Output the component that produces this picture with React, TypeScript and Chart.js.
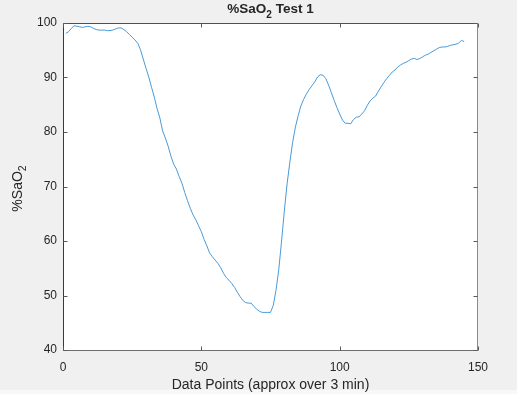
import React, { useEffect, useRef } from "react";
import { Chart, registerables } from "chart.js";

Chart.register(...registerables);

// %SaO2 readings, one per data point (approx over 3 min)
const sao2: number[] = [
  98.1, 98.4, 99.0, 99.5, 99.4, 99.3, 99.2, 99.3, 99.4, 99.3,
  99.0, 98.8, 98.7, 98.7, 98.7, 98.6, 98.6, 98.7, 98.9, 99.1,
  99.1, 98.8, 98.4, 97.9, 97.4, 96.9, 96.3, 95.1, 93.4, 91.7,
  90.1, 88.2, 86.4, 84.3, 82.6, 80.2, 78.9, 77.4, 75.6, 74.1,
  73.2, 71.8, 70.6, 68.9, 67.4, 66.0, 64.8, 63.9, 62.8, 61.7,
  60.3, 59.1, 57.8, 57.1, 56.5, 55.9, 55.1, 54.1, 53.3, 52.8,
  52.2, 51.5, 50.6, 49.8, 49.1, 48.7, 48.6, 48.6, 48.0, 47.5,
  47.1, 46.9, 46.9, 46.9, 46.9, 48.2, 51.0, 54.8, 60.0, 65.5,
  70.5, 74.5, 78.1, 80.9, 83.0, 84.8, 86.0, 87.0, 87.8, 88.5,
  89.2, 90.1, 90.5, 90.4, 89.8, 88.6, 87.2, 85.8, 84.5, 83.3,
  82.2, 81.6, 81.6, 81.5, 82.3, 82.7, 82.8, 83.3, 83.9, 84.9,
  85.7, 86.2, 86.6, 87.5, 88.3, 89.1, 89.8, 90.4, 91.0, 91.4,
  91.9, 92.3, 92.6, 92.8, 93.1, 93.4, 93.5, 93.3, 93.5, 93.8,
  94.1, 94.3, 94.6, 94.9, 95.2, 95.5, 95.6, 95.6, 95.7, 95.9,
  96.0, 96.1, 96.3, 96.8, 96.6,
];
// data point numbers (1-based sample index)
const sampleIndex: number[] = sao2.map((_, i) => i + 1);

const xTicks: number[] = [0, 50, 100, 150];
const yTicks: number[] = [40, 50, 60, 70, 80, 90, 100];

const titleMain = "%SaO";
const titleSub = "2";
const titleRest = " Test 1";
const yLabelMain = "%SaO";
const yLabelSub = "2";
const xLabel = "Data Points (approx over 3 min)";

const FONT = 'Arial, "Liberation Sans", Helvetica, sans-serif';
const TEXT = "#262626";

const matlabPlugin = {
  id: "matlabLook",
  beforeDraw(chart: any) {
    const { ctx, width, height, chartArea: a } = chart;
    ctx.save();
    ctx.fillStyle = "#f0f0f0";
    ctx.fillRect(0, 0, width, height);
    ctx.fillStyle = "#f8f8f8";
    ctx.fillRect(0, 390, width, height - 390);
    ctx.fillStyle = "#ffffff";
    ctx.fillRect(a.left, a.top, a.right - a.left, a.bottom - a.top);
    ctx.restore();
  },
  afterDraw(chart: any) {
    const { ctx, chartArea: a, scales } = chart;
    const xs = scales.x;
    const ys = scales.y;
    const L = Math.round(a.left) + 0.5;
    const R = Math.round(a.right) - 0.5;
    const T = Math.round(a.top) + 0.5;
    const B = Math.round(a.bottom) + 0.5;
    const tl = 4;
    ctx.save();
    ctx.lineWidth = 1;
    // left & bottom axes
    ctx.strokeStyle = "#3a3a3a";
    ctx.beginPath();
    ctx.moveTo(L, T);
    ctx.lineTo(L, B);
    ctx.stroke();
    ctx.strokeStyle = "#6e6e6e";
    ctx.beginPath();
    ctx.moveTo(L, B);
    ctx.lineTo(R + 0.5, B);
    ctx.stroke();
    // top & right box
    ctx.strokeStyle = "#505050";
    ctx.beginPath();
    ctx.moveTo(L, T);
    ctx.lineTo(R, T);
    ctx.stroke();
    ctx.strokeStyle = "#8a8a8a";
    ctx.beginPath();
    ctx.moveTo(R, T);
    ctx.lineTo(R, B);
    ctx.stroke();
    // ticks
    ctx.strokeStyle = "#5a5a5a";
    xTicks.forEach((v) => {
      const px = Math.round(xs.getPixelForValue(v)) + 0.5;
      ctx.beginPath();
      ctx.moveTo(px, B);
      ctx.lineTo(px, B - tl);
      ctx.moveTo(px, T);
      ctx.lineTo(px, T + tl);
      ctx.stroke();
    });
    yTicks.forEach((v) => {
      const py = Math.round(ys.getPixelForValue(v)) + 0.5;
      ctx.beginPath();
      ctx.moveTo(L, py);
      ctx.lineTo(L + tl, py);
      ctx.moveTo(R, py);
      ctx.lineTo(R - tl, py);
      ctx.stroke();
    });

    // title with subscript
    ctx.fillStyle = TEXT;
    ctx.textBaseline = "alphabetic";
    ctx.textAlign = "left";
    const mainF = `bold 13.5px ${FONT}`;
    const subF = `bold 10px ${FONT}`;
    ctx.font = mainF;
    const w1 = ctx.measureText(titleMain).width;
    const w3 = ctx.measureText(titleRest).width;
    ctx.font = subF;
    const w2 = ctx.measureText(titleSub).width;
    const cx = (a.left + a.right) / 2;
    const x0 = cx - (w1 + w2 + w3) / 2;
    const by = 13;
    ctx.font = mainF;
    ctx.fillText(titleMain, x0, by);
    ctx.font = subF;
    ctx.fillText(titleSub, x0 + w1, by + 5);
    ctx.font = mainF;
    ctx.fillText(titleRest, x0 + w1 + w2, by);

    // y label with subscript, rotated
    const yMainF = `14px ${FONT}`;
    const ySubF = `10.5px ${FONT}`;
    ctx.font = yMainF;
    const yw1 = ctx.measureText(yLabelMain).width;
    ctx.font = ySubF;
    const yw2 = ctx.measureText(yLabelSub).width;
    ctx.translate(22, (a.top + a.bottom) / 2 + 2);
    ctx.rotate(-Math.PI / 2);
    const sx = -(yw1 + yw2) / 2;
    ctx.font = yMainF;
    ctx.fillText(yLabelMain, sx, 0);
    ctx.font = ySubF;
    ctx.fillText(yLabelSub, sx + yw1, 4);
    ctx.restore();
  },
};

export default function App() {
  const ref = useRef<HTMLCanvasElement | null>(null);

  useEffect(() => {
    if (!ref.current) return;
    const chart = new Chart(ref.current, {
      type: "line",
      data: {
        datasets: [
          {
            data: sao2.map((y, i) => ({ x: sampleIndex[i], y })),
            borderColor: "#4a9ad8",
            borderWidth: 1,
            pointRadius: 0,
            tension: 0,
            fill: false,
          },
        ],
      },
      options: {
        responsive: false,
        animation: false,
        devicePixelRatio: 1,
        layout: { padding: { left: 0, right: 39, top: 23, bottom: 0 } },
        plugins: {
          legend: { display: false },
          title: { display: false },
          tooltip: { enabled: false },
        },
        scales: {
          x: {
            type: "linear",
            min: 0,
            max: 150,
            afterBuildTicks: (s: any) => {
              s.ticks = xTicks.map((v) => ({ value: v }));
            },
            afterFit: (s: any) => {
              s.height = 44;
            },
            grid: { display: false, drawTicks: false },
            border: { display: false },
            ticks: {
              color: TEXT,
              font: { family: FONT, size: 12 },
              padding: 10,
              maxRotation: 0,
              autoSkip: false,
            },
            title: {
              display: true,
              text: xLabel,
              color: TEXT,
              font: { family: FONT, size: 14 },
              padding: { top: 2, bottom: 0 },
            },
          },
          y: {
            type: "linear",
            min: 40,
            max: 100,
            afterBuildTicks: (s: any) => {
              s.ticks = yTicks.map((v) => ({ value: v }));
            },
            afterFit: (s: any) => {
              s.width = 63;
            },
            grid: { display: false, drawTicks: false },
            border: { display: false },
            ticks: {
              color: TEXT,
              font: { family: FONT, size: 12 },
              padding: 6,
              autoSkip: false,
            },
          },
        },
      },
      plugins: [matlabPlugin],
    });
    return () => chart.destroy();
  }, []);

  return (
    <div style={{ position: "absolute", left: 0, top: 0, width: 517, height: 394 }}>
      <canvas ref={ref} width={517} height={394} />
    </div>
  );
}
